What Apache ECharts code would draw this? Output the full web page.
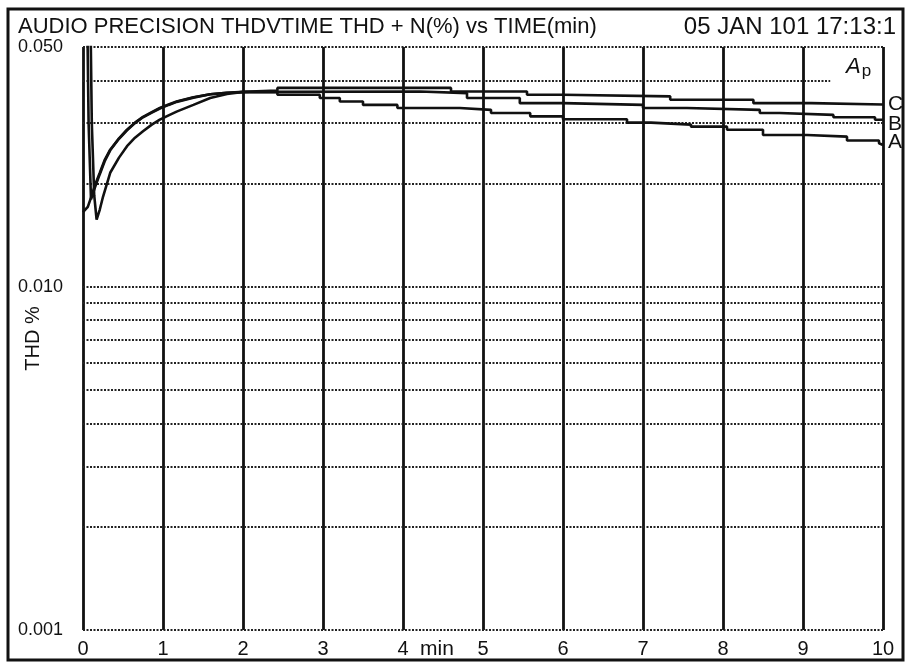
<!DOCTYPE html>
<html>
<head>
<meta charset="utf-8">
<script src="https://cdn.jsdelivr.net/npm/echarts@6/dist/echarts.min.js"></script>
<style>
  html, body { margin: 0; padding: 0; background: #fff; }
  #charts { width: 908px; height: 663px; }
</style>
</head>
<body>
<div id="charts"></div>
<script>
// readings: [minutes, THD %]
var curveA = [
  [0, 0.0165], [0.06, 0.0171], [0.1, 0.0182], [0.15, 0.0198], [0.21, 0.0215], [0.27, 0.0234],
  [0.34, 0.0251], [0.45, 0.0271], [0.55, 0.0287], [0.65, 0.0301], [0.75, 0.0313], [0.86, 0.0323],
  [0.96, 0.0332], [1.07, 0.034], [1.17, 0.0347], [1.38, 0.0357], [1.59, 0.0364], [1.8, 0.0368],
  [2.0, 0.0369], [2.43, 0.0369], [2.43, 0.0363], [2.96, 0.0363], [2.96, 0.0355], [3.21, 0.0355],
  [3.21, 0.0347], [3.5, 0.0347], [3.5, 0.0339], [3.93, 0.0339], [3.93, 0.0332], [4.71, 0.0332],
  [4.71, 0.0328], [5.1, 0.0328], [5.1, 0.0321], [5.59, 0.0321], [5.59, 0.0314], [6.0, 0.0314],
  [6.0, 0.0308], [6.8, 0.0308], [6.8, 0.0301], [7.1, 0.0301], [7.1, 0.0297], [7.6, 0.0297],
  [7.6, 0.0293], [8.05, 0.0293], [8.05, 0.0287], [8.5, 0.0287], [8.5, 0.0277], [9.05, 0.0277],
  [9.05, 0.0274], [9.55, 0.0274], [9.55, 0.0267], [9.95, 0.0267], [9.95, 0.0262], [10, 0.0259]
];
var curveB = [
  [0.05, 0.07], [0.07, 0.03], [0.1, 0.018], [0.15, 0.0195], [0.21, 0.0213], [0.27, 0.0232],
  [0.34, 0.025], [0.45, 0.027], [0.55, 0.0286], [0.65, 0.03], [0.75, 0.0312], [0.86, 0.0322],
  [0.96, 0.0331], [1.07, 0.0339], [1.17, 0.0346], [1.38, 0.0356], [1.59, 0.0364], [1.8, 0.0368],
  [2.0, 0.037], [2.43, 0.037], [2.43, 0.0371], [4.21, 0.0371], [4.21, 0.0367], [4.8, 0.0367],
  [4.8, 0.0355], [5.46, 0.0355], [5.46, 0.0343], [6.0, 0.0343], [6.0, 0.0339], [7.0, 0.0339],
  [7.0, 0.0332], [7.55, 0.0332], [7.55, 0.0328], [8.46, 0.0328], [8.46, 0.0321], [8.71, 0.0321],
  [8.71, 0.0317], [9.38, 0.0317], [9.38, 0.0312], [9.9, 0.0312], [9.9, 0.0307], [10, 0.0307]
];
var curveC = [
  [0.09, 0.07], [0.11, 0.03], [0.14, 0.0185], [0.17, 0.0157], [0.21, 0.0168], [0.25, 0.0183],
  [0.34, 0.0215], [0.45, 0.0238], [0.55, 0.0257], [0.65, 0.0272], [0.75, 0.0284], [0.86, 0.0297],
  [0.96, 0.0307], [1.07, 0.0316], [1.17, 0.0324], [1.38, 0.0339], [1.59, 0.0355], [1.8, 0.0365],
  [2.0, 0.037], [2.43, 0.0373], [2.43, 0.038], [4.6, 0.038], [4.6, 0.0371], [5.55, 0.0371],
  [5.55, 0.0363], [6.0, 0.0363], [6.0, 0.0359], [7.34, 0.0359], [7.34, 0.0351], [8.38, 0.0351],
  [8.38, 0.0343], [9.1, 0.0343], [9.1, 0.034], [10, 0.034]
];
var curveNames = ['A', 'B', 'C'];
var labelNudge = { A: [0, -3], B: [0, 5], C: [0, 0] };
var gridValues = [0.001, 0.002, 0.003, 0.004, 0.005, 0.006, 0.007, 0.008, 0.009, 0.01, 0.02, 0.03, 0.05];
var apLineValue = 0.04;
var apLineEnd = 9.34;
var titleText = 'AUDIO PRECISION THDVTIME THD + N(%) vs TIME(min)';
var dateText = '05 JAN 101 17:13:1';

var font = '"Liberation Sans", Arial, sans-serif';
var ink = '#111';

var chart = echarts.init(document.getElementById('charts'));

var gridLines = gridValues.map(function (v) { return { yAxis: v }; });
gridLines.push([{ coord: [0, apLineValue] }, { coord: [apLineEnd, apLineValue] }]);

function makeSeries(name, data, withGrid) {
  var s = {
    name: name,
    type: 'line',
    data: data,
    showSymbol: false,
    symbol: 'none',
    lineStyle: { color: ink, width: 2.6 },
    endLabel: {
      show: true,
      formatter: '{a}',
      color: ink,
      fontFamily: font,
      fontSize: 21,
      distance: 5,
      offset: labelNudge[name]
    },
    z: 3
  };
  if (withGrid) {
    s.markLine = {
      silent: true,
      precision: 6,
      symbol: ['none', 'none'],
      label: { show: false },
      lineStyle: { color: '#222', width: 2, type: [2, 1.5] },
      data: gridLines,
      z: 1
    };
  }
  return s;
}

var option = {
  backgroundColor: '#fff',
  animation: false,
  title: [
    {
      text: titleText, left: 18, top: 16, padding: 0,
      textStyle: { color: ink, fontFamily: font, fontSize: 22, fontWeight: 'normal' }
    },
    {
      text: dateText, right: 12, top: 15, padding: 0,
      textStyle: { color: ink, fontFamily: font, fontSize: 24, fontWeight: 'normal' }
    }
  ],
  grid: { left: 83, right: 25, top: 47, bottom: 33, outerBoundsMode: 'none', containLabel: false },
  xAxis: {
    type: 'value',
    min: 0, max: 10, interval: 1,
    name: 'min',
    nameLocation: 'middle',
    nameGap: 9,
    nameMoveOverlap: false,
    nameTextStyle: { color: ink, fontFamily: font, fontSize: 21, padding: [0, 92, 0, 0], verticalAlign: 'top' },
    axisLine: { show: false },
    axisTick: { show: false },
    axisLabel: { color: ink, fontFamily: font, fontSize: 20, margin: 9 },
    splitLine: { show: true, lineStyle: { color: ink, width: 2.8 } }
  },
  yAxis: {
    type: 'log',
    logBase: 10,
    min: 0.001, max: 0.05,
    name: 'THD %',
    nameLocation: 'middle',
    nameGap: 50,
    nameMoveOverlap: false,
    nameTextStyle: { color: ink, fontFamily: font, fontSize: 20, verticalAlign: 'middle' },
    axisLine: { show: false },
    axisTick: { show: false },
    axisLabel: {
      color: ink, fontFamily: font, fontSize: 18, margin: 20,
      formatter: function (v) { return Number(v).toFixed(3); }
    },
    splitLine: { show: false }
  },
  graphic: [
    {
      type: 'rect',
      shape: { x: 8, y: 9, width: 895, height: 651 },
      style: { fill: 'none', stroke: ink, lineWidth: 3 },
      silent: true
    },
    {
      type: 'text',
      left: 846, top: 56,
      style: {
        text: '{a|A}{p|p}',
        rich: {
          a: { fontFamily: font, fontSize: 22, fontStyle: 'italic', fill: ink },
          p: { fontFamily: font, fontSize: 17, fill: ink, padding: [8, 0, 0, 1] }
        }
      }
    }
  ],
  series: [
    makeSeries('A', curveA, true),
    makeSeries('B', curveB, false),
    makeSeries('C', curveC, false)
  ]
};
chart.setOption(option);
</script>
</body>
</html>
